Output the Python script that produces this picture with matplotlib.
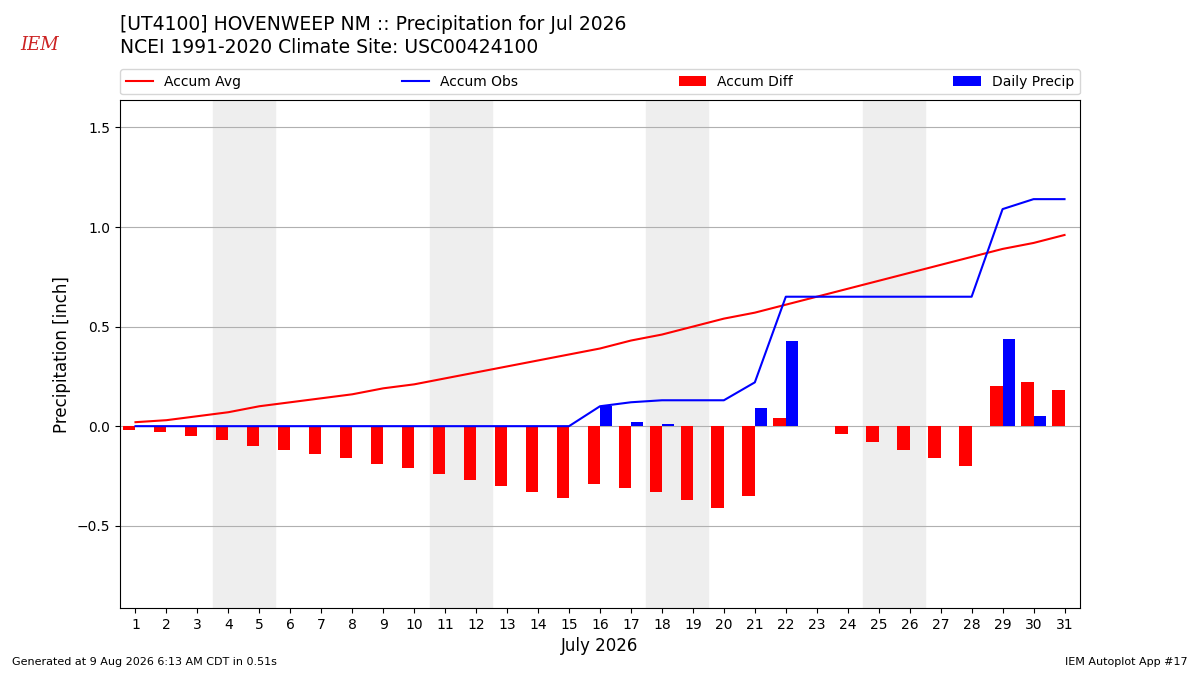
import matplotlib
matplotlib.use('Agg')
import matplotlib.pyplot as plt
import numpy as np

# data (inches)
days = list(range(1, 32))
accum_avg = [0.02, 0.03, 0.05, 0.07, 0.10, 0.12, 0.14, 0.16, 0.19, 0.21,
             0.24, 0.27, 0.30, 0.33, 0.36, 0.39, 0.43, 0.46, 0.50, 0.54,
             0.57, 0.61, 0.65, 0.69, 0.73, 0.77, 0.81, 0.85, 0.89, 0.92, 0.96]
daily_precip = [0, 0, 0, 0, 0, 0, 0, 0, 0, 0,
                0, 0, 0, 0, 0, 0.10, 0.02, 0.01, 0, 0,
                0.09, 0.43, 0, 0, 0, 0, 0, 0, 0.44, 0.05, 0]
weekends = [(4, 5), (11, 12), (18, 19), (25, 26)]

title_lines = ["[UT4100] HOVENWEEP NM :: Precipitation for Jul 2026",
               "NCEI 1991-2020 Climate Site: USC00424100"]

accum_obs = np.cumsum(daily_precip)
accum_diff = accum_obs - np.array(accum_avg)

fig = plt.figure(figsize=(12, 6.75), dpi=100)
ax = fig.add_axes([0.1, 0.0993, 0.8, 0.752])

for start, end in weekends:
    ax.axvspan(start - 0.5, end + 0.5, color='#eeeeee', zorder=0)

ax.plot(days, accum_avg, color='r', lw=1.5, label='Accum Avg', zorder=3)
ax.plot(days, accum_obs, color='b', lw=1.5, label='Accum Obs', zorder=3)
ax.bar(days, accum_diff, width=-0.4, align='edge', color='r',
       label='Accum Diff', zorder=2)
ax.bar(days, daily_precip, width=0.4, align='edge', color='b',
       label='Daily Precip', zorder=2)

ax.set_xlim(0.5, 31.5)
ax.set_ylim(-0.913, 1.636)
ax.set_xticks(days)
ax.set_yticks([-0.5, 0.0, 0.5, 1.0, 1.5])
ax.grid(axis='y', color='#b0b0b0', lw=0.8, zorder=1)
ax.set_axisbelow(True)
ax.set_xlabel('July 2026', fontsize=12)
ax.set_ylabel('Precipitation [inch]', fontsize=12)

ax.legend(bbox_to_anchor=(0, 1.012, 1, 0.05), loc=3, ncol=4, mode='expand',
          borderaxespad=0, fontsize=10)

fig.text(0.1, 0.963, title_lines[0], fontsize=13.5, va='center')
fig.text(0.1, 0.929, title_lines[1], fontsize=13.5, va='center')

# rough stand-in for the IEM logo
fig.text(0.017, 0.933, 'IEM', color='#cc2222', fontsize=13,
         family='DejaVu Serif', style='italic', va='center')

fig.text(0.01, 0.015, 'Generated at 9 Aug 2026 6:13 AM CDT in 0.51s', fontsize=8)
fig.text(0.99, 0.015, 'IEM Autoplot App #17', fontsize=8, ha='right')

fig.savefig('out.png', dpi=100)
